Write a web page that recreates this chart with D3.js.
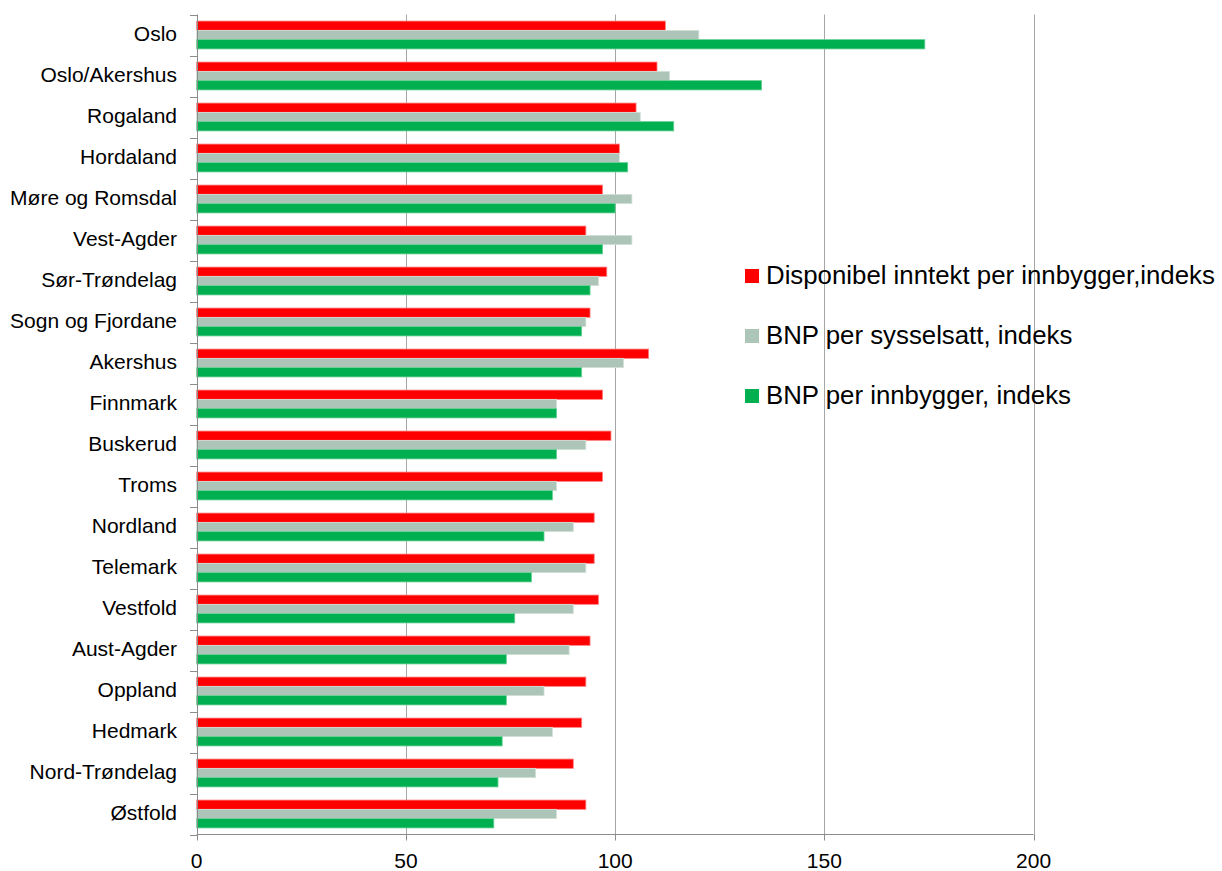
<!DOCTYPE html>
<html>
<head>
<meta charset="utf-8">
<script src="https://cdn.jsdelivr.net/npm/d3@7"></script>
<style>
  html, body { margin: 0; padding: 0; background: #ffffff; }
  text { font-family: "Liberation Sans", Arial, sans-serif; fill: #000; }
</style>
</head>
<body>
<svg id="chart" width="1222" height="871"></svg>
<script>
const categories = ["Oslo","Oslo/Akershus","Rogaland","Hordaland","Møre og Romsdal","Vest-Agder","Sør-Trøndelag","Sogn og Fjordane","Akershus","Finnmark","Buskerud","Troms","Nordland","Telemark","Vestfold","Aust-Agder","Oppland","Hedmark","Nord-Trøndelag","Østfold"];
const seriesNames = ["Disponibel inntekt per innbygger,indeks","BNP per sysselsatt, indeks","BNP per innbygger, indeks"];
const disponibel = [112,110,105,101,97,93,98,94,108,97,99,97,95,95,96,94,93,92,90,93];
const bnpSysselsatt = [120,113,106,101,104,104,96,93,102,86,93,86,90,93,90,89,83,85,81,86];
const bnpInnbygger = [174,135,114,103,100,97,94,92,92,86,86,85,83,80,76,74,74,73,72,71];
const xTicks = [0,50,100,150,200];
const colors = ["#ff0000","#adc5b8","#00b050"];
const strokes = ["#ff8080","#d3e0d8","#66cf95"];

const seriesValues = [disponibel, bnpSysselsatt, bnpInnbygger];
const svg = d3.select("#chart");

const x = d3.scaleLinear().domain([0,200]).range([196.7, 1033.6]);
const y = d3.scaleBand().domain(categories).range([14.5, 834.5]).paddingInner(0.32).paddingOuter(0.16);
const ySub = d3.scaleBand().domain(d3.range(seriesNames.length)).range([0, y.bandwidth()]);

// gridlines
svg.append("g").selectAll("line").data(xTicks.filter(t => t > 0)).join("line")
  .attr("x1", d => Math.round(x(d)) + 0.5).attr("x2", d => Math.round(x(d)) + 0.5)
  .attr("y1", 14.5).attr("y2", 834.5)
  .attr("stroke", "#a6a6a6").attr("stroke-width", 1);

// bars
const groups = svg.append("g").selectAll("g").data(categories).join("g")
  .attr("transform", d => `translate(0,${y(d)})`);
groups.selectAll("rect").data((c, i) => seriesValues.map((vals, s) => ({ s, v: vals[i] }))).join("rect")
  .attr("x", x(0))
  .attr("y", d => ySub(d.s))
  .attr("width", d => x(d.v) - x(0))
  .attr("height", ySub.bandwidth())
  .attr("fill", d => colors[d.s])
  .attr("stroke", d => strokes[d.s])
  .attr("stroke-width", 0.8);

// left axis
const step = y.step();
const boundaries = d3.range(categories.length + 1).map(i => 14.5 + i * step);
svg.append("line").attr("x1", 197.5).attr("x2", 197.5).attr("y1", 14.5).attr("y2", 834.5)
  .attr("stroke", "#8c8c8c").attr("stroke-width", 1);
svg.append("g").selectAll("line").data(boundaries).join("line")
  .attr("x1", 190).attr("x2", 197.5)
  .attr("y1", d => Math.round(d) + 0.5).attr("y2", d => Math.round(d) + 0.5)
  .attr("stroke", "#8c8c8c").attr("stroke-width", 1);
svg.append("g").selectAll("text").data(categories).join("text")
  .attr("x", 177).attr("y", d => y(d) + y.bandwidth() / 2 - 1.5)
  .attr("text-anchor", "end").attr("dominant-baseline", "central")
  .attr("font-size", 21).text(d => d);

// bottom axis
svg.append("line").attr("x1", 196.7).attr("x2", 1033.6).attr("y1", 834.5).attr("y2", 834.5)
  .attr("stroke", "#8c8c8c").attr("stroke-width", 1);
svg.append("g").selectAll("line").data(xTicks).join("line")
  .attr("x1", d => Math.round(x(d)) + 0.5).attr("x2", d => Math.round(x(d)) + 0.5)
  .attr("y1", 834.5).attr("y2", 840.5)
  .attr("stroke", "#8c8c8c").attr("stroke-width", 1);
svg.append("g").selectAll("text").data(xTicks).join("text")
  .attr("x", d => x(d)).attr("y", 860)
  .attr("text-anchor", "middle").attr("dominant-baseline", "central")
  .attr("font-size", 21).text(d => d);

// legend
const legend = svg.append("g").selectAll("g").data(seriesNames).join("g")
  .attr("transform", (d, i) => `translate(745,${276 + i * 60})`);
legend.append("rect").attr("x", 0).attr("y", -7).attr("width", 14).attr("height", 14)
  .attr("fill", (d, i) => colors[i]);
legend.append("text").attr("x", 21).attr("y", -1).attr("dominant-baseline", "central")
  .attr("font-size", 25.8).text(d => d);
</script>
</body>
</html>
